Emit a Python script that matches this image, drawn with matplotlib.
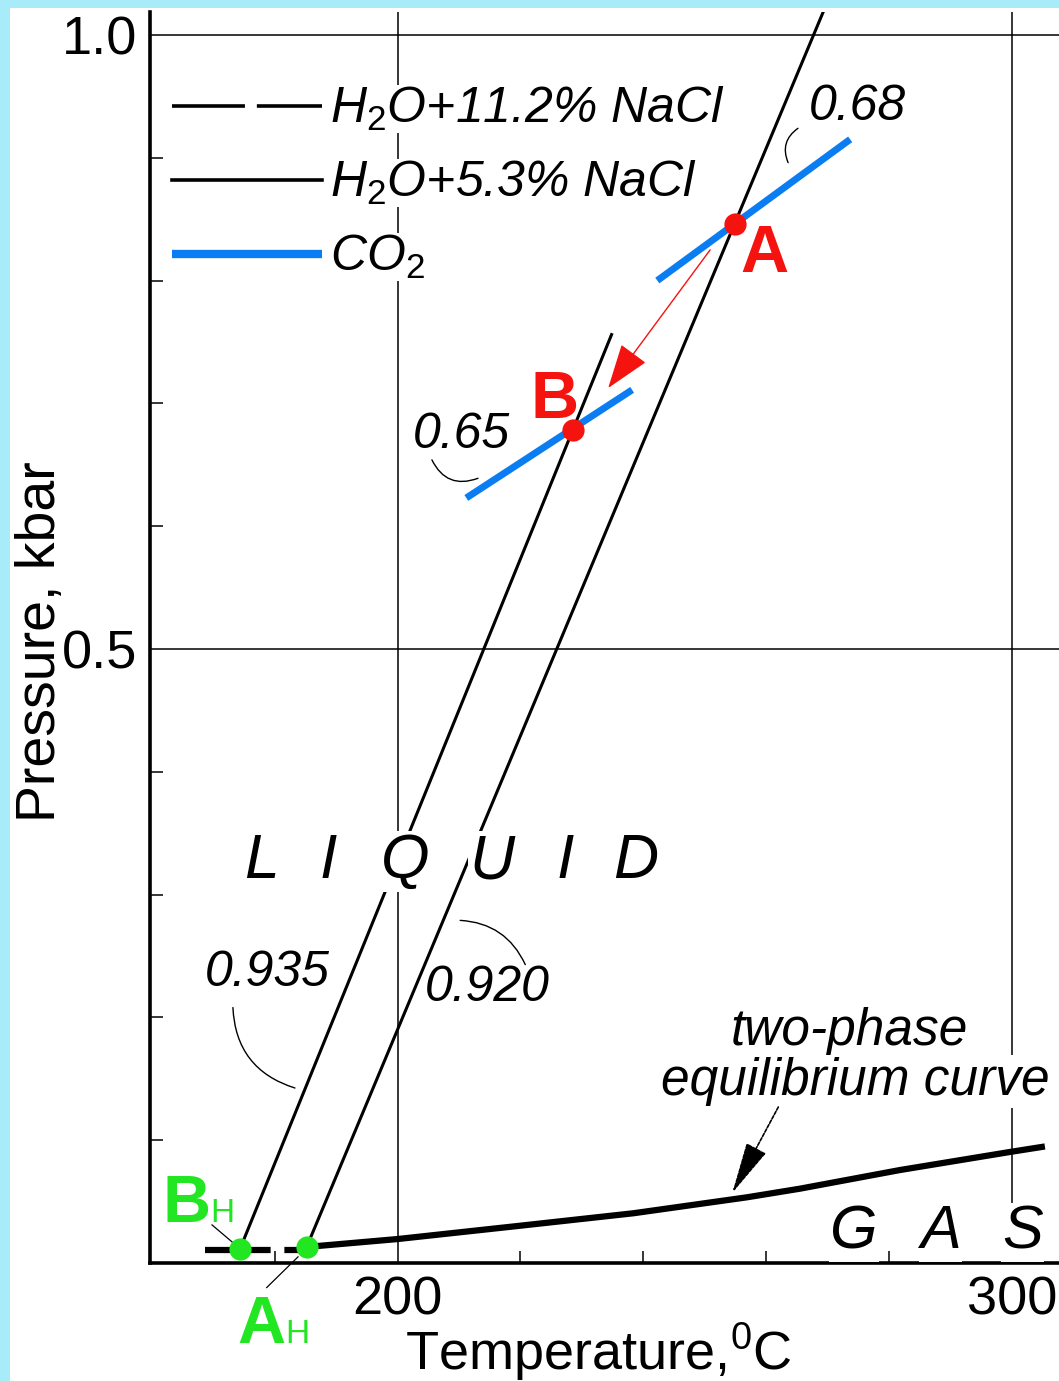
"""Isochores of H2O-NaCl brines and CO2 in P-T space with the two-phase curve."""

import matplotlib
matplotlib.use("Agg")
import matplotlib.pyplot as plt
from matplotlib.lines import Line2D
from matplotlib.patches import Rectangle
from matplotlib.ticker import FixedLocator

plt.rcParams.update({
    "font.family": ["Liberation Sans", "DejaVu Sans"],
    "mathtext.fontset": "custom",
    "mathtext.rm": "Liberation Sans",
    "mathtext.it": "Liberation Sans:italic",
    "mathtext.bf": "Liberation Sans:bold",
})

BLUE = "#0A7DF2"
RED = "#F5130F"
GREEN = "#22E622"
BORDER = "#A9ECF9"

# ---------------------------------------------------------------------------
# Data (temperature in degC, pressure in kbar)
# ---------------------------------------------------------------------------
iso_935_T = [174.35, 234.85]          # H2O + 11.2 % NaCl, density 0.935
iso_935_P = [0.0114, 0.756]
iso_920_T = [185.2, 270.5]            # H2O + 5.3 % NaCl, density 0.920
iso_920_P = [0.013, 1.033]

co2_068_T = [242.3, 273.7]            # CO2 isochore 0.68
co2_068_P = [0.800, 0.915]
co2_065_T = [211.2, 238.2]            # CO2 isochore 0.65
co2_065_P = [0.623, 0.711]

twophase_T = [185.2, 186.9, 200.0, 219.5, 238.4, 256.9, 265.5,
              281.8, 299.7, 304.9]
twophase_P = [0.013, 0.0138, 0.0195, 0.0301, 0.0405, 0.0535, 0.0605,
              0.0757, 0.0904, 0.0945]
twophase_ext_T = [168.6, 185.2]       # 11.2 % NaCl branch
twophase_ext_P = [0.0106, 0.0106]

point_A = (254.9, 0.846)
point_B = (228.5, 0.678)
point_AH = (185.2, 0.013)
point_BH = (174.35, 0.0114)

shift_from = (250.9, 0.825)
shift_to = (234.3, 0.7125)

x_ticks = [200, 300]
x_minor = [180, 220, 240, 260, 280]
y_ticks = [0.5, 1.0]
y_minor = [0.1, 0.2, 0.3, 0.4, 0.6, 0.7, 0.8, 0.9]

liquid_letters = list("LIQUID")
liquid_T = [177.9, 188.7, 201.2, 215.4, 227.3, 238.8]
gas_letters = list("GAS")
gas_T = [274.3, 288.4, 301.7]

# isochore labels: (text, T, P) and leader (start, end, curvature)
density_labels = [
    ("0.68", 266.9, 0.941),
    ("0.65", 202.5, 0.674),
    ("0.935", 168.6, 0.236),
    ("0.920", 204.5, 0.224),
]
leaders = [
    ((265.2, 0.924), (263.6, 0.896), 0.4),
    ((205.6, 0.654), (213.1, 0.639), 0.45),
    ((173.2, 0.208), (183.3, 0.1425), 0.35),
    ((210.2, 0.279), (220.8, 0.243), -0.3),
]

# ---------------------------------------------------------------------------
# Figure
# ---------------------------------------------------------------------------
W, H = 1059, 1381
fig = plt.figure(figsize=(W / 100, H / 100), dpi=100)
fig.patch.set_facecolor(BORDER)
fig.add_artist(Rectangle((10 / W, 0), 1, (H - 8) / H, transform=fig.transFigure,
                         fc="white", ec="none", zorder=-5))

ax = fig.add_axes([150 / W, 118 / H, 909 / W, 1251 / H])
ax.set_facecolor("none")
ax.set_xlim(159.7, 307.7)
ax.set_ylim(0, 1.0187)

for side in ("top", "right"):
    ax.spines[side].set_visible(False)
for side in ("left", "bottom"):
    ax.spines[side].set_linewidth(2.6)

ax.xaxis.set_major_locator(FixedLocator(x_ticks))
ax.xaxis.set_minor_locator(FixedLocator(x_minor))
ax.yaxis.set_major_locator(FixedLocator(y_ticks))
ax.yaxis.set_minor_locator(FixedLocator(y_minor))
ax.set_xticklabels(["200", "300"])
ax.set_yticklabels(["0.5", "1.0"])
ax.tick_params(which="major", length=0, labelsize=39, pad=9)
ax.tick_params(which="minor", direction="in", length=9, width=1.1)
ax.grid(which="major", color="black", lw=1.1)

ax.set_xlabel(r"Temperature,$^\mathregular{0}$C", fontsize=39)
ax.xaxis.set_label_coords(0.493, -0.046)
ax.set_ylabel("Pressure, kbar", fontsize=40)
ax.yaxis.set_label_coords(-0.091, 0.4968)

# isochores
ax.plot(co2_068_T, co2_068_P, color=BLUE, lw=5, zorder=2, solid_capstyle="butt")
ax.plot(co2_065_T, co2_065_P, color=BLUE, lw=5, zorder=2, solid_capstyle="butt")
ax.plot(iso_935_T, iso_935_P, color="black", lw=2.2, zorder=2.5)
ax.plot(iso_920_T, iso_920_P, color="black", lw=2.2, zorder=2.5)

# two-phase curve
ax.plot(twophase_T, twophase_P, color="black", lw=4.5, zorder=3,
        solid_joinstyle="round")
ax.plot(twophase_ext_T, twophase_ext_P, color="black", lw=4.5, zorder=3,
        dashes=(10.5, 2.2))

# shift A -> B
ax.annotate("", xy=shift_to, xytext=shift_from, zorder=4,
            arrowprops=dict(arrowstyle="-|>,head_length=1.3,head_width=0.45",
                            color=RED, lw=1.0, mutation_scale=22,
                            shrinkA=0, shrinkB=0))

# points
for pt in (point_A, point_B):
    ax.plot(*pt, "o", color=RED, ms=16, mec="none", zorder=6)
for pt in (point_AH, point_BH):
    ax.plot(*pt, "o", color=GREEN, ms=16, mec="none", zorder=6, clip_on=False)

big = dict(fontsize=48, fontweight="bold", va="baseline", ha="left")
sub = dict(fontsize=24, va="baseline", ha="left")
ax.text(255.8, 0.807, "A", color=RED, **big)
ax.text(221.6, 0.688, "B", color=RED, **big)
ax.text(161.8, 0.0334, "B", color=GREEN, **big)
ax.text(169.5, 0.0334, "H", color=GREEN, **sub)
ax.text(174.0, -0.065, "A", color=GREEN, clip_on=False, **big)
ax.text(181.7, -0.065, "H", color=GREEN, clip_on=False, **sub)
ax.plot([169.8, 173.1], [0.031, 0.017], color="black", lw=0.9, zorder=4)
ax.plot([183.8, 178.7], [0.005, -0.020], color="black", lw=0.9, zorder=4,
        clip_on=False)

# density labels with leaders
for text, t, p in density_labels:
    ax.text(t, p, text, fontsize=36, style="italic", ha="left", va="center")
for start, end, rad in leaders:
    ax.annotate("", xy=end, xytext=start,
                arrowprops=dict(arrowstyle="-", lw=1.0, color="black",
                                connectionstyle=f"arc3,rad={rad}",
                                shrinkA=0, shrinkB=0))

# phase field names
white = dict(fc="white", ec="none", pad=1)
for letter, t in zip(liquid_letters, liquid_T):
    ax.text(t, 0.3135, letter, fontsize=45, style="italic", ha="center",
            va="baseline", bbox=white, zorder=4)
for letter, t in zip(gas_letters, gas_T):
    ax.text(t, 0.0122, letter, fontsize=44, style="italic", ha="center",
            va="baseline", bbox=white, zorder=4)

ax.text(273.5, 0.1775, "two-phase", fontsize=37, style="italic", ha="center",
        va="baseline", bbox=white, zorder=4)
ax.text(274.5, 0.1368, "equilibrium curve", fontsize=37, style="italic",
        ha="center", va="baseline", bbox=white, zorder=4)
ax.annotate("", xy=(254.5, 0.057), xytext=(262.0, 0.127), zorder=4,
            arrowprops=dict(arrowstyle="-|>,head_length=1.5,head_width=0.32",
                            color="black", lw=1.2, linestyle=(0, (2, 1)),
                            mutation_scale=22, shrinkA=0, shrinkB=0))

# legend
handles = [
    Line2D([], [], color="black", lw=2.6, dashes=(20.2, 3.3)),
    Line2D([], [], color="black", lw=2.6),
    Line2D([], [], color=BLUE, lw=6, solid_capstyle="butt"),
]
labels = [r"$H_2O$+11.2% NaCl", r"$H_2O$+5.3% NaCl", r"$CO_2$"]
leg = ax.legend(handles, labels, loc="upper left",
                bbox_to_anchor=(22 / 909, (1263 - 85) / 1251),
                frameon=False, borderpad=0, borderaxespad=0,
                handlelength=3.0, handletextpad=0.16, labelspacing=0.52,
                prop=dict(size=36, style="italic"))
for t in leg.get_texts():
    t.set_bbox(dict(fc="white", ec="none", pad=0))

fig.savefig("out.png", dpi=100)
